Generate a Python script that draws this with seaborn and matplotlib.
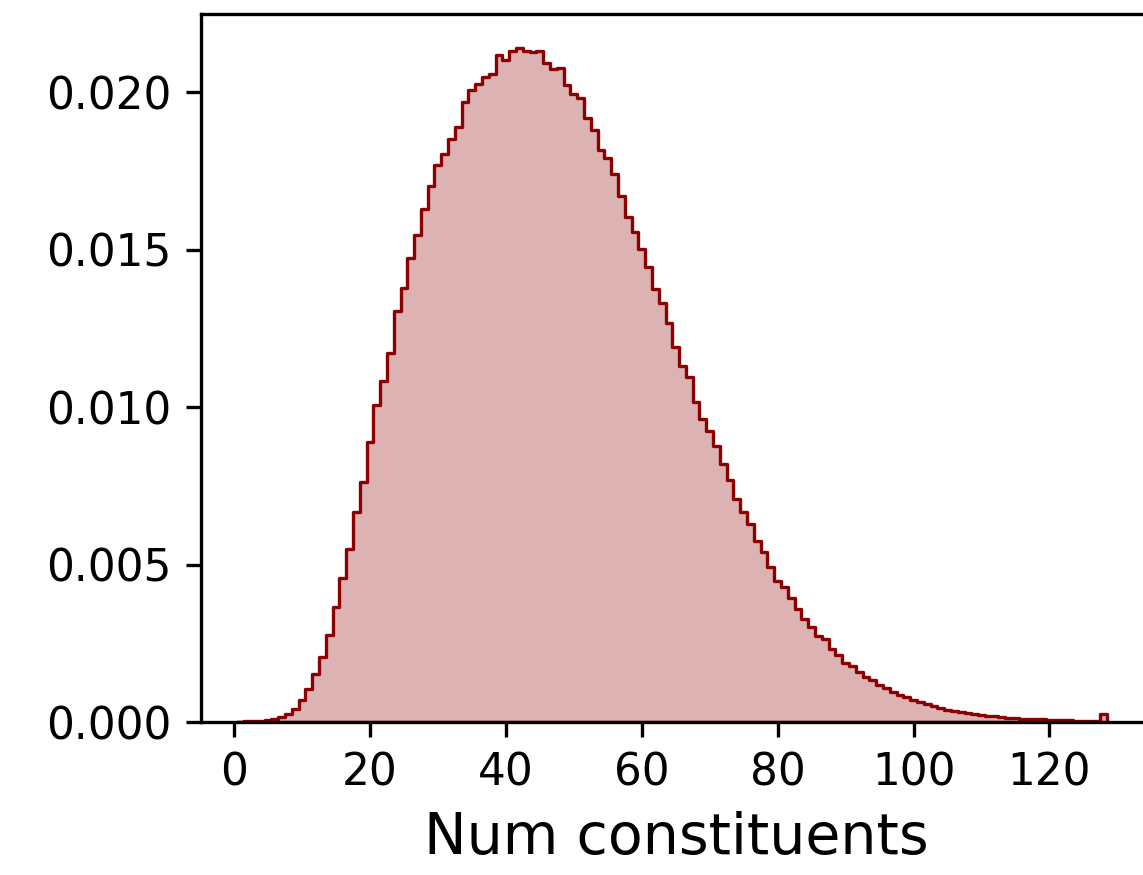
import numpy as np
import pandas as pd
import matplotlib
matplotlib.use("Agg")
import matplotlib.pyplot as plt
import seaborn as sns

# Number of constituents per jet (integer bins) and the normalised fraction in each bin
num_constituents = list(range(1, 129))
fraction = [
    0.00001, 0.00002, 0.00003, 0.00004, 0.00006, 0.00010, 0.00015, 0.00024, 0.00042, 0.00070,
    0.00104, 0.00152, 0.00207, 0.00276, 0.00364, 0.00459, 0.00549, 0.00666, 0.00761, 0.00890,
    0.01006, 0.01083, 0.01172, 0.01306, 0.01379, 0.01474, 0.01547, 0.01629, 0.01702, 0.01769,
    0.01803, 0.01853, 0.01891, 0.01969, 0.02006, 0.02028, 0.02049, 0.02057, 0.02120, 0.02102,
    0.02132, 0.02142, 0.02133, 0.02127, 0.02131, 0.02094, 0.02073, 0.02076, 0.02022, 0.01996,
    0.01983, 0.01920, 0.01879, 0.01818, 0.01793, 0.01741, 0.01671, 0.01604, 0.01555, 0.01501,
    0.01446, 0.01374, 0.01331, 0.01266, 0.01192, 0.01131, 0.01096, 0.01017, 0.00964, 0.00923,
    0.00877, 0.00820, 0.00768, 0.00708, 0.00668, 0.00629, 0.00576, 0.00541, 0.00493, 0.00448,
    0.00430, 0.00393, 0.00358, 0.00326, 0.00303, 0.00272, 0.00263, 0.00231, 0.00212, 0.00188,
    0.00178, 0.00158, 0.00144, 0.00133, 0.00116, 0.00109, 0.00096, 0.00086, 0.00078, 0.00071,
    0.00063, 0.00056, 0.00050, 0.00044, 0.00039, 0.00035, 0.00033, 0.00029, 0.00025, 0.00022,
    0.00020, 0.00018, 0.00016, 0.00014, 0.00012, 0.00011, 0.00010, 0.00009, 0.00008, 0.00007,
    0.00006, 0.00005, 0.00005, 0.00004, 0.00004, 0.00003, 0.00003, 0.00025,
]
x_label = "Num constituents"
x_ticks = [0, 20, 40, 60, 80, 100, 120]

df = pd.DataFrame({"n": num_constituents, "w": fraction})

fig = plt.figure(figsize=(1143 / 300, 875 / 300), dpi=300)
ax = fig.add_axes([201 / 1143, 1 - 722 / 875, (1150.7 - 201) / 1143, (722 - 14) / 875])

sns.histplot(
    data=df, x="n", weights="w", discrete=True, stat="count",
    element="step", fill=True, color="darkred", alpha=0.3,
    linewidth=0.8, edgecolor="darkred", ax=ax,
)

ax.set_xlim(-4.86, 134.9)
ax.set_ylim(0, 0.02249)
ax.set_xticks(x_ticks)
ax.set_yticks([0.0, 0.005, 0.010, 0.015, 0.020])
ax.yaxis.set_major_formatter(matplotlib.ticker.FormatStrFormatter("%.3f"))
ax.tick_params(labelsize=10.5)
ax.set_ylabel("")
ax.set_xlabel(x_label, fontsize=13.7)

fig.savefig("out.png", dpi=300)
